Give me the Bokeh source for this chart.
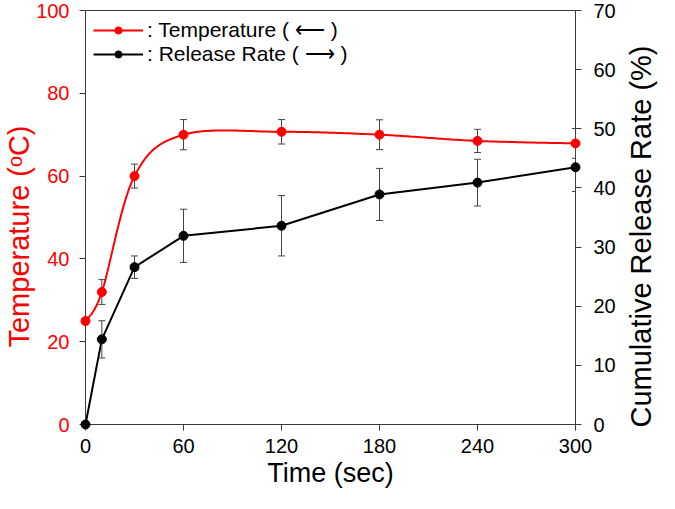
import math
import numpy as np
from bokeh.plotting import figure
from bokeh.core.properties import value
from bokeh.models import (Range1d, LinearAxis, FixedTicker, Whisker, ColumnDataSource,
                          Legend, LegendItem, TeeHead)
from bokeh.embed import file_html
from bokeh.resources import INLINE

# ---- data ----
time_sec = [0, 10, 30, 60, 120, 180, 240, 300]
temperature = [25, 32, 60, 70, 70.7, 70, 68.5, 67.9]
temperature_err = [0, 3.0, 2.9, 3.65, 2.95, 3.6, 2.8, 3.6]
release_rate = [0, 14.4, 26.6, 31.9, 33.6, 38.9, 40.9, 43.5]
release_err = [0, 3.15, 1.9, 4.5, 5.1, 4.4, 3.95, 4.1]

x_ticks = [0, 60, 120, 180, 240, 300]
temp_ticks = [0, 20, 40, 60, 80, 100]
rate_ticks = [0, 10, 20, 30, 40, 50, 60, 70]
legend_labels = [": Temperature ( \u27f5 )", ": Release Rate ( \u27f6 )"]
x_label = "Time (sec)"
temp_label = "Temperature (\u1d52C)"
rate_label = "Cumulative Release Rate (%)"

FONT = "Liberation Sans"
AXIS_COLOR = "#3a3a3a"
RED = "#ff0000"


def smooth(xs, ys, n=40):
    """Excel-style smoothed line (Catmull-Rom Bezier) through the data points."""
    P = np.column_stack([xs, ys]).astype(float)
    m = len(P)
    out = []
    for i in range(m - 1):
        p0 = P[i]
        p3 = P[i + 1]
        prev = P[i - 1] if i > 0 else P[i]
        nxt = P[i + 2] if i + 2 < m else P[i + 1]
        c1 = p0 + (p3 - prev) / 6.0
        c2 = p3 - (nxt - p0) / 6.0
        t = np.linspace(0, 1, n)[:, None]
        seg = ((1 - t) ** 3) * p0 + 3 * ((1 - t) ** 2) * t * c1 + 3 * (1 - t) * t ** 2 * c2 + t ** 3 * p3
        out.append(seg if i == 0 else seg[1:])
    arr = np.vstack(out)
    return arr[:, 0], arr[:, 1]


p = figure(frame_width=490, frame_height=414,
           x_range=Range1d(0, 300), y_range=Range1d(0, 100),
           output_backend="svg", toolbar_location=None,
           min_border_top=10, min_border_left=85, min_border_right=84, min_border_bottom=0)
p.extra_y_ranges = {"rate": Range1d(0, 70)}

p.xgrid.visible = False
p.ygrid.visible = False
p.outline_line_color = AXIS_COLOR
p.outline_line_alpha = 1.0
p.outline_line_width = 1
p.background_fill_color = "white"
p.border_fill_color = "white"

# axes
xa = p.xaxis[0]
xa.ticker = FixedTicker(ticks=x_ticks)
xa.axis_label = x_label
ya = p.yaxis[0]
ya.ticker = FixedTicker(ticks=temp_ticks)
ra = LinearAxis(y_range_name="rate", ticker=FixedTicker(ticks=rate_ticks))
p.add_layout(ra, "right")

for ax in (xa, ya, ra):
    ax.axis_line_color = AXIS_COLOR
    ax.axis_line_width = 1
    ax.major_tick_line_color = AXIS_COLOR
    ax.major_tick_out = 6
    ax.major_tick_in = 0
    ax.minor_tick_line_color = None
    ax.major_label_text_font = FONT
    ax.major_label_text_font_size = "20px"
    ax.major_label_text_color = "black"
    ax.axis_label_text_font = FONT
    ax.axis_label_text_font_style = "normal"
    ax.axis_label_text_color = "black"

xa.major_label_standoff = 8
xa.axis_label_standoff = 2
xa.axis_label_text_font_size = "27px"

ya.major_label_text_color = RED
ya.major_label_standoff = 10
ra.major_label_standoff = 12

# vertical axis titles (both read bottom-to-top, as in the reference)
t1 = p.text(x=[0], y=[50], text=[temp_label], angle=math.pi / 2,
            text_align="center", text_baseline="top", x_offset=-83, y_offset=19,
            text_font=value(FONT), text_font_size="29px", text_color=RED)
t2 = p.text(x=[300], y=[35], text=[rate_label], angle=math.pi / 2, y_range_name="rate",
            text_align="center", text_baseline="top", x_offset=49, y_offset=19,
            text_font=value(FONT), text_font_size="29px", text_color="black")
t1.level = "overlay"
t2.level = "overlay"

# error bars
temp_src = ColumnDataSource(dict(
    x=time_sec, y=temperature,
    lo=[v - e for v, e in zip(temperature, temperature_err)],
    hi=[v + e for v, e in zip(temperature, temperature_err)]))
rate_src = ColumnDataSource(dict(
    x=time_sec, y=release_rate,
    lo=[v - e for v, e in zip(release_rate, release_err)],
    hi=[v + e for v, e in zip(release_rate, release_err)]))

for src, rng in ((temp_src, "default"), (rate_src, "rate")):
    w = Whisker(source=src, base="x", lower="lo", upper="hi", dimension="height",
                line_color="#444444", line_width=1, y_range_name=rng,
                upper_head=TeeHead(size=7, line_color="#444444", line_width=1),
                lower_head=TeeHead(size=7, line_color="#444444", line_width=1))
    w.level = "annotation"
    p.add_layout(w)

# series
sx, sy = smooth(time_sec, temperature)
r_tl = p.line(sx, sy, line_color=RED, line_width=2)
r_tm = p.scatter("x", "y", source=temp_src, size=9, fill_color=RED, line_color=RED)

r_rl = p.line("x", "y", source=rate_src, line_color="black", line_width=2, y_range_name="rate")
r_rm = p.scatter("x", "y", source=rate_src, size=9, fill_color="black", line_color="black",
                 y_range_name="rate")
r_tm.level = "overlay"
r_rm.level = "overlay"

legend = Legend(items=[LegendItem(label=legend_labels[0], renderers=[r_tl, r_tm]),
                       LegendItem(label=legend_labels[1], renderers=[r_rl, r_rm])],
                location="top_left")
legend.margin = 8
legend.padding = 4
legend.spacing = 0
legend.glyph_width = 50
legend.glyph_height = 18
legend.label_height = 18
legend.label_standoff = 4
legend.label_text_font = FONT
legend.label_text_font_size = "21px"
legend.label_text_color = "black"
legend.border_line_color = None
legend.background_fill_alpha = 0
p.add_layout(legend)

open("out.html", "w").write(file_html(p, INLINE))
